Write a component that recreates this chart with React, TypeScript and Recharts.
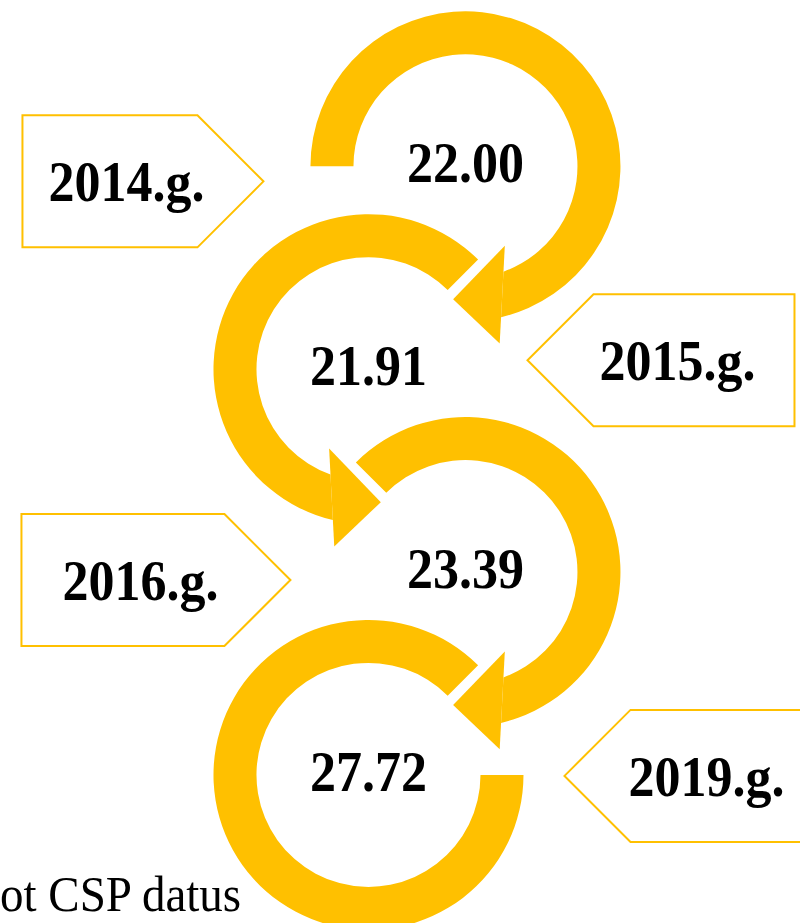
import { ScatterChart, Scatter, XAxis, YAxis } from "recharts";

const years = ["2014.g.", "2015.g.", "2016.g.", "2019.g."];
const values = [22.0, 21.91, 23.39, 27.72];
const source = "ot CSP datus";

const GOLD = "#FFC000";
const W = 800;
const H = 923;
const R_OUT = 155;
const R_IN = 112;
const R_MID = (R_OUT + R_IN) / 2;
const FONT = "'Liberation Serif', 'Times New Roman', serif";

// hand placement of the year tags: tip/back relative to the ring centre,
// text centre relative to the tip
const tags = [
  { tip: -202, back: -443, dy: 15, tx: -137 },
  { tip: 159, back: 426, dy: -9, tx: 150 },
  { tip: -175, back: -444, dy: 8, tx: -150 },
  { tip: 196, back: 440, dy: 1, tx: 142 },
];

const rows = years.map((year, i) => ({
  step: i,
  lane: i % 2 === 0 ? 1 : 0,
  year,
  value: values[i],
}));

const rad = (d: number) => (d * Math.PI) / 180;
const deg = (r: number) => (r * 180) / Math.PI;

const spanOf = (from: number, to: number, dir: number) =>
  ((((to - from) * dir) % 360) + 360) % 360;

function ringPaths(cx: number, cy: number, start: number, dir: number, arrow: boolean) {
  const P = (r: number, a: number) => [cx + r * Math.cos(rad(a)), cy + r * Math.sin(rad(a))];
  let outEnd: number[], inEnd: number[], spanOut: number, spanIn: number;
  let head = "";

  if (arrow) {
    const base = 90 - dir * 16;
    const m = [R_MID * Math.cos(rad(base)), R_MID * Math.sin(rad(base))];
    const ua = rad(base + dir * 19);
    const u = [Math.cos(ua), Math.sin(ua)];
    const b = m[0] * u[0] + m[1] * u[1];
    const hit = (r: number) => {
      const t = -b + Math.sqrt(b * b - R_MID * R_MID + r * r);
      return [m[0] + t * u[0], m[1] + t * u[1]];
    };
    const o = hit(R_OUT);
    const n = hit(R_IN);
    outEnd = [cx + o[0], cy + o[1]];
    inEnd = [cx + n[0], cy + n[1]];
    spanOut = spanOf(start, deg(Math.atan2(o[1], o[0])), dir);
    spanIn = spanOf(start, deg(Math.atan2(n[1], n[0])), dir);

    const h = 49;
    const bi = [cx + m[0] - h * u[0], cy + m[1] - h * u[1]];
    const bo = [cx + m[0] + h * u[0], cy + m[1] + h * u[1]];
    const tp = P(R_MID, base + dir * 21.3);
    head = `M${bi[0]},${bi[1]} L${tp[0]},${tp[1]} L${bo[0]},${bo[1]} Z`;
  } else {
    const end = start + dir * 315;
    outEnd = P(R_OUT, end);
    inEnd = P(R_IN, end);
    spanOut = spanIn = 315;
  }

  const os = P(R_OUT, start);
  const is = P(R_IN, start);
  const sw = dir > 0 ? 1 : 0;
  const shaft =
    `M${os[0]},${os[1]} ` +
    `A${R_OUT},${R_OUT} 0 ${spanOut > 180 ? 1 : 0} ${sw} ${outEnd[0]},${outEnd[1]} ` +
    `L${inEnd[0]},${inEnd[1]} ` +
    `A${R_IN},${R_IN} 0 ${spanIn > 180 ? 1 : 0} ${1 - sw} ${is[0]},${is[1]} Z`;
  return { shaft, head };
}

const Ring = (props: any) => {
  const { cx, cy, payload } = props;
  const i = payload.step;
  const dir = payload.lane === 1 ? 1 : -1;
  const start = i === 0 ? 180 : dir > 0 ? -135 : -45;
  const { shaft, head } = ringPaths(cx, cy, start, dir, i < years.length - 1);

  const tag = tags[i];
  const s = Math.sign(tag.tip);
  const tipX = cx + tag.tip;
  const neck = tipX + s * 66;
  const backX = cx + tag.back;
  const ym = cy + tag.dy;
  const pts = [
    [backX, ym - 66],
    [neck, ym - 66],
    [tipX, ym],
    [neck, ym + 66],
    [backX, ym + 66],
  ]
    .map((p) => p.join(","))
    .join(" ");

  return (
    <g>
      <polygon points={pts} fill="#fff" stroke={GOLD} strokeWidth={2} />
      <text
        transform={`translate(${tipX + tag.tx} ${ym + 20}) scale(1 1.1)`}
        textAnchor="middle"
        fontFamily={FONT}
        fontWeight="bold"
        fontSize={52}
        fill="#000"
      >
        {payload.year}
      </text>
      <path d={shaft} fill={GOLD} />
      {head && <path d={head} fill={GOLD} />}
      <text
        transform={`translate(${cx} ${cy + 16}) scale(1 1.1)`}
        textAnchor="middle"
        fontFamily={FONT}
        fontWeight="bold"
        fontSize={52}
        fill="#000"
      >
        {payload.value.toFixed(2)}
      </text>
    </g>
  );
};

export default function App() {
  return (
    <div style={{ position: "absolute", left: 0, top: 0, width: W, height: H, background: "#fff" }}>
      <ScatterChart width={W} height={H} margin={{ top: 0, right: 0, bottom: 0, left: 0 }}>
        <XAxis type="number" dataKey="lane" domain={[-3.8, 4.45]} hide />
        <YAxis type="number" dataKey="step" domain={[-0.82, 3.73]} reversed hide />
        <Scatter data={rows} shape={Ring} isAnimationActive={false} />
      </ScatterChart>
      <svg
        width={W}
        height={H}
        style={{ position: "absolute", left: 0, top: 0, pointerEvents: "none" }}
      >
        <text
          transform="translate(0 911) scale(1 1.07)"
          fontFamily={FONT}
          fontSize={47}
          fill="#000"
        >
          {source}
        </text>
      </svg>
    </div>
  );
}
